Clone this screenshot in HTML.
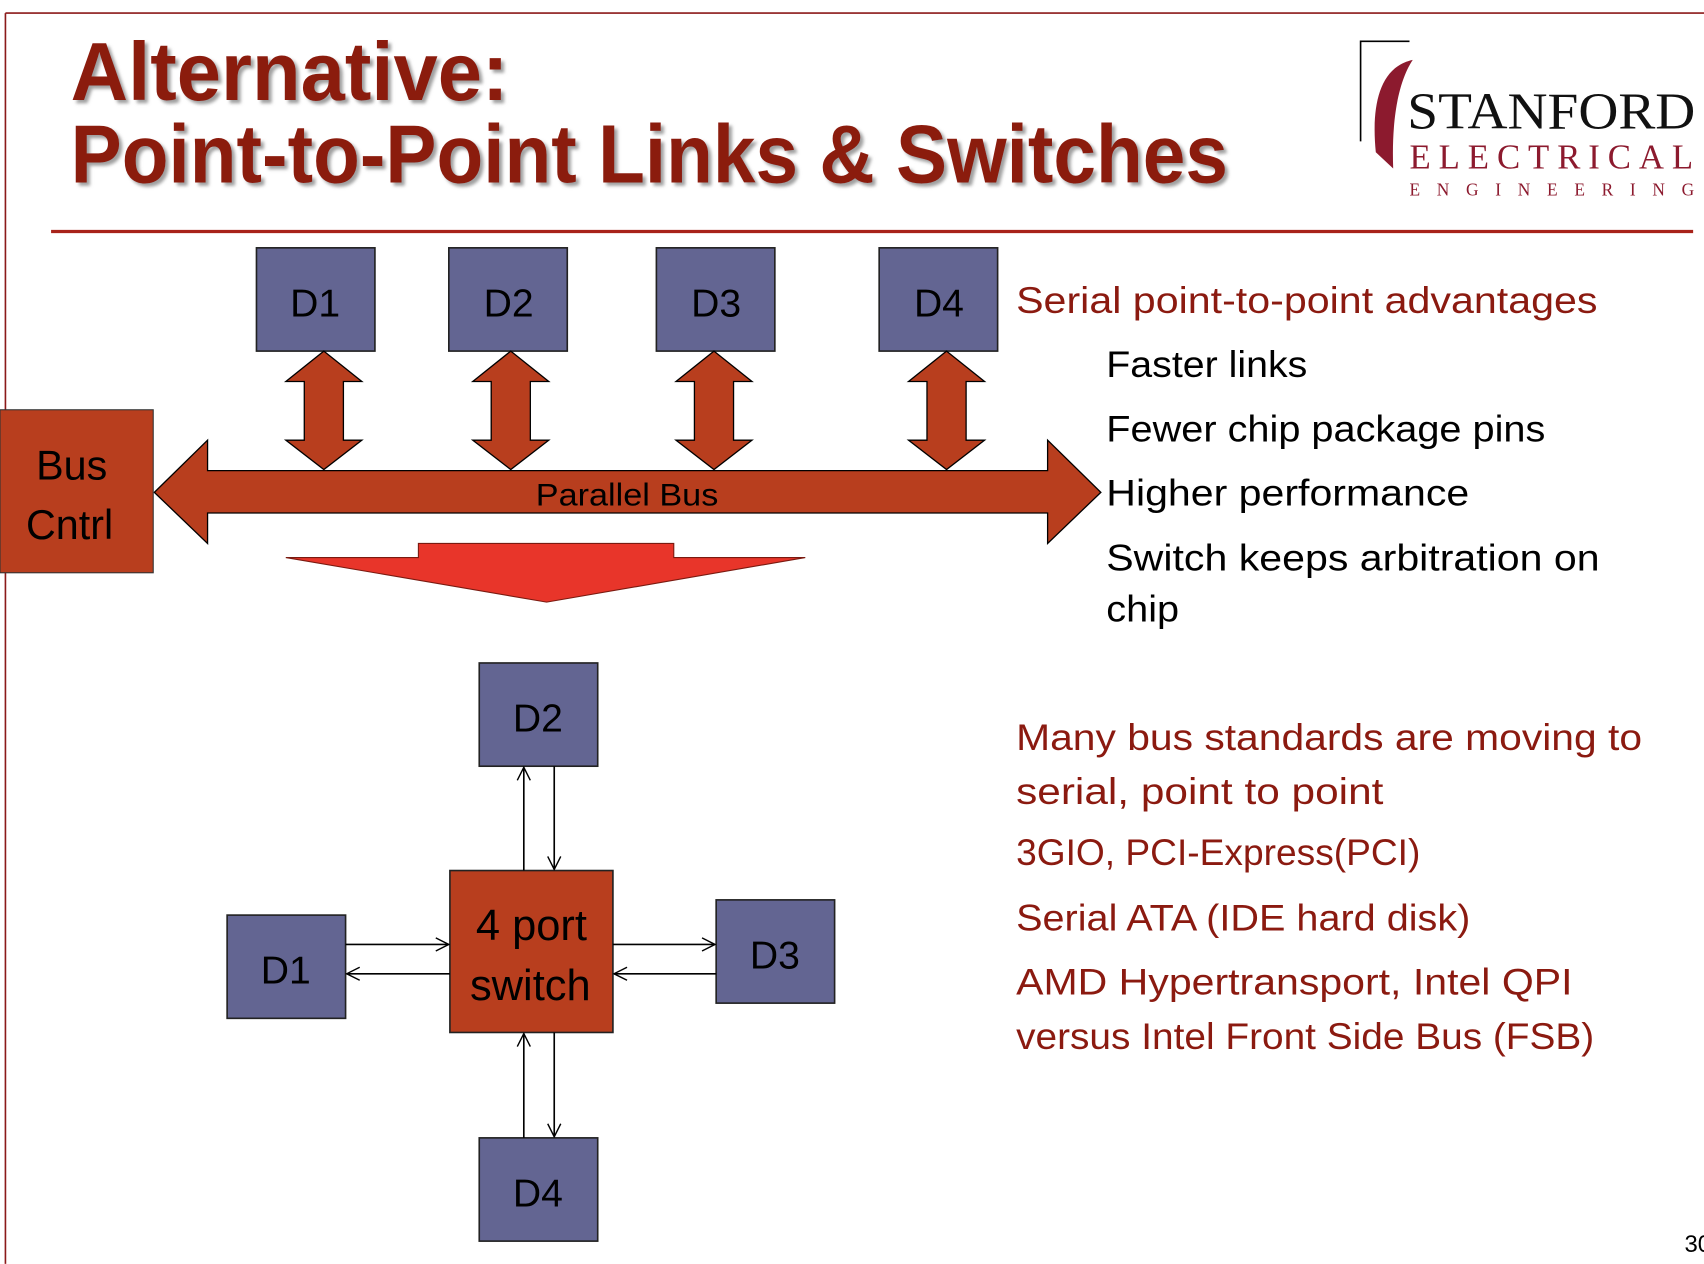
<!DOCTYPE html>
<html><head><meta charset="utf-8"><style>
html,body{margin:0;padding:0;background:#fff;}
svg{display:block;}
text{font-family:"Liberation Sans",sans-serif;}
text.serif{font-family:"Liberation Serif",serif;}
</style></head><body>
<svg width="1704" height="1264" viewBox="0 0 1568 1163" xmlns="http://www.w3.org/2000/svg">
<defs>
<marker id="ah" markerWidth="14" markerHeight="14" refX="13" refY="7" orient="auto" markerUnits="userSpaceOnUse">
<path d="M1,1 L13,7 L1,13" fill="none" stroke="#000" stroke-width="1.3"/>
</marker>
<filter id="sh" x="-5%" y="-5%" width="110%" height="120%"><feDropShadow dx="3" dy="3" stdDeviation="1.5" flood-color="#777" flood-opacity="0.7"/></filter>
</defs>
<rect width="1568" height="1163" fill="#fff"/>
<line x1="5" y1="12" x2="1568" y2="12" stroke="#8B1A1A" stroke-width="1.5"/>
<line x1="5" y1="12" x2="5" y2="1163" stroke="#8B1A1A" stroke-width="1.5"/>
<g fill="#8B1A10" font-weight="bold" font-size="76" filter="url(#sh)">
<text x="65" y="92" textLength="403" lengthAdjust="spacingAndGlyphs">Alternative:</text>
<text x="65" y="168" textLength="1065" lengthAdjust="spacingAndGlyphs">Point-to-Point Links &amp; Switches</text>
</g>
<line x1="47" y1="213" x2="1558" y2="213" stroke="#A8231A" stroke-width="3"/>
<!-- logo -->
<path d="M1252,130 L1252,38 L1297,38" fill="none" stroke="#000" stroke-width="1.5"/>
<path d="M1282,155 L1266,140 C1262,100 1268,62 1300,55 C1290,70 1280,100 1282,155 Z" fill="#8C1A2E"/>
<text class="serif" x="1295" y="118" font-size="48" fill="#111" textLength="265" lengthAdjust="spacingAndGlyphs">STANFORD</text>
<text class="serif" x="1297" y="155" font-size="32" fill="#8C1A2E" textLength="261" lengthAdjust="spacing">ELECTRICAL</text>
<text class="serif" x="1297" y="180" font-size="16" fill="#8C1A2E" textLength="262" lengthAdjust="spacing">ENGINEERING</text>
<!-- top D boxes -->
<g fill="#636592" stroke="#222" stroke-width="1.5">
<rect x="236" y="228" width="109" height="95"/><rect x="413" y="228" width="109" height="95"/>
<rect x="604" y="228" width="109" height="95"/><rect x="809" y="228" width="109" height="95"/>
</g>
<g font-size="36" text-anchor="middle" fill="#000">
<text x="290" y="291">D1</text><text x="468" y="291">D2</text><text x="659" y="291">D3</text><text x="864" y="291">D4</text>
</g>
<!-- vertical double arrows -->
<g fill="#B83E1E" stroke="#000" stroke-width="1.2">
<path d="M298,323 L333,351 L316,351 L316,405 L333,405 L298,432 L263,405 L280,405 L280,351 L263,351 Z"/>
<path d="M470,323 L505,351 L488,351 L488,405 L505,405 L470,432 L435,405 L452,405 L452,351 L435,351 Z"/>
<path d="M657,323 L692,351 L675,351 L675,405 L692,405 L657,432 L622,405 L639,405 L639,351 L622,351 Z"/>
<path d="M871,323 L906,351 L889,351 L889,405 L906,405 L871,432 L836,405 L853,405 L853,351 L836,351 Z"/>
<path d="M142,453 L191,405 L191,433 L964,433 L964,405 L1013,453 L964,500 L964,472 L191,472 L191,500 Z"/>
</g>
<rect x="0" y="377" width="141" height="150" fill="#B83E1E" stroke="#333" stroke-width="1"/>
<g font-size="38" text-anchor="middle" fill="#000">
<text x="66" y="441">Bus</text><text x="64" y="496">Cntrl</text>
</g>
<text x="577" y="465" font-size="29" text-anchor="middle" fill="#000" textLength="168" lengthAdjust="spacingAndGlyphs">Parallel Bus</text>
<path d="M263,513 L385,513 L385,500 L620,500 L620,513 L741,513 L503,554 Z" fill="#E8352A" stroke="#7a1a10" stroke-width="1"/>
<!-- right text -->
<g font-size="34">
<text x="935" y="288" fill="#8B1A10" textLength="535" lengthAdjust="spacingAndGlyphs">Serial point-to-point advantages</text>
<text x="1018" y="347" fill="#000" textLength="185" lengthAdjust="spacingAndGlyphs">Faster links</text>
<text x="1018" y="406" fill="#000" textLength="404" lengthAdjust="spacingAndGlyphs">Fewer chip package pins</text>
<text x="1018" y="465" fill="#000" textLength="334" lengthAdjust="spacingAndGlyphs">Higher performance</text>
<text x="1018" y="525" fill="#000" textLength="454" lengthAdjust="spacingAndGlyphs">Switch keeps arbitration on</text>
<text x="1018" y="572" fill="#000" textLength="67" lengthAdjust="spacingAndGlyphs">chip</text>
<g fill="#8B1A10">
<text x="935" y="690" textLength="576" lengthAdjust="spacingAndGlyphs">Many bus standards are moving to</text>
<text x="935" y="740" textLength="338" lengthAdjust="spacingAndGlyphs">serial, point to point</text>
<text x="935" y="796" textLength="372" lengthAdjust="spacingAndGlyphs">3GIO, PCI-Express(PCI)</text>
<text x="935" y="856" textLength="418" lengthAdjust="spacingAndGlyphs">Serial ATA (IDE hard disk)</text>
<text x="935" y="915" textLength="512" lengthAdjust="spacingAndGlyphs">AMD Hypertransport, Intel QPI</text>
<text x="935" y="965" textLength="532" lengthAdjust="spacingAndGlyphs">versus Intel Front Side Bus (FSB)</text>
</g>
</g>
<!-- switch diagram -->
<g fill="#636592" stroke="#222" stroke-width="1.5">
<rect x="441" y="610" width="109" height="95"/><rect x="209" y="842" width="109" height="95"/>
<rect x="659" y="828" width="109" height="95"/><rect x="441" y="1047" width="109" height="95"/>
</g>
<rect x="414" y="801" width="150" height="149" fill="#B83E1E" stroke="#222" stroke-width="1.5"/>
<g font-size="36" text-anchor="middle" fill="#000">
<text x="495" y="673">D2</text><text x="263" y="905">D1</text><text x="713" y="891">D3</text><text x="495" y="1110">D4</text>
</g>
<g font-size="40" text-anchor="middle" fill="#000">
<text x="489" y="865">4 port</text><text x="488" y="920">switch</text>
</g>
<g stroke="#000" stroke-width="1.5" marker-end="url(#ah)">
<line x1="482" y1="801" x2="482" y2="706"/>
<line x1="510" y1="705" x2="510" y2="800"/>
<line x1="482" y1="1047" x2="482" y2="951"/>
<line x1="510" y1="950" x2="510" y2="1046"/>
<line x1="318" y1="869" x2="413" y2="869"/>
<line x1="414" y1="896" x2="319" y2="896"/>
<line x1="564" y1="869" x2="658" y2="869"/>
<line x1="659" y1="896" x2="565" y2="896"/>
</g>
<text x="1550" y="1152" font-size="22" fill="#000">30</text>
</svg>
</body></html>
